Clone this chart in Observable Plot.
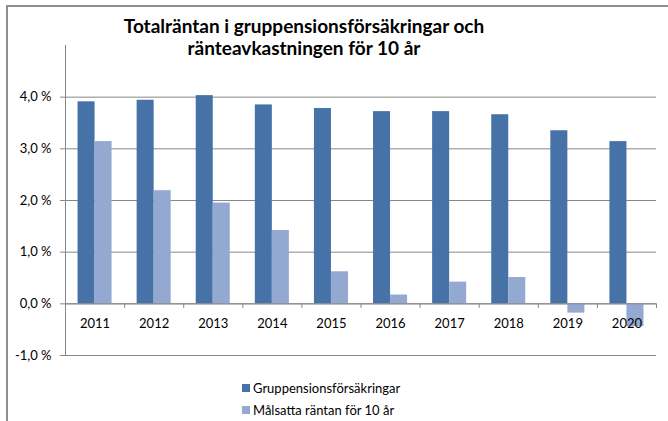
<!DOCTYPE html>
<html>
<head>
<meta charset="utf-8">
<script src="https://cdn.jsdelivr.net/npm/d3@7"></script>
<script src="https://cdn.jsdelivr.net/npm/@observablehq/plot@0.6"></script>
<style>
  html, body { margin: 0; padding: 0; background: #fff; }
  #wrap { position: relative; width: 668px; height: 421px; overflow: hidden; font-family: Lato, "Liberation Sans", sans-serif; }
  #frame { position: absolute; left: 6px; top: 5px; width: 700px; height: 500px; border-top: 2px solid #8e8e8e; border-left: 2px solid #8e8e8e; }
  #title { position: absolute; left: 0; top: 15px; width: 608px; text-align: center; font-weight: bold; font-size: 19px; line-height: 22px; color: #000; }
  #chart { position: absolute; left: 0; top: 0; }
  #legend { position: absolute; left: 242px; top: 377px; font-size: 13px; color: #000; }
  .li { display: flex; align-items: center; height: 22px; }
  .sw { width: 8px; height: 8px; margin-right: 3px; }
</style>
</head>
<body>
<div id="wrap">
  <div id="frame"></div>
  <div id="title">Totalräntan i gruppensionsförsäkringar och<br>ränteavkastningen för 10 år</div>
  <div id="chart"></div>
  <div id="legend"></div>
</div>
<script>
const years = [2011, 2012, 2013, 2014, 2015, 2016, 2017, 2018, 2019, 2020];
const gruppension = [3.91, 3.94, 4.03, 3.85, 3.78, 3.72, 3.72, 3.66, 3.35, 3.14];
const malsatta = [3.14, 2.19, 1.95, 1.42, 0.62, 0.17, 0.42, 0.51, -0.18, -0.44];
const seriesNames = ["Gruppensionsförsäkringar", "Målsatta räntan för 10 år"];
const colors = ["#4672a8", "#94a9d1"];
const yTicks = [-1, 0, 1, 2, 3, 4];

const half = 0.288; // bar width in year units
const dark = years.map((y, i) => ({year: y, value: gruppension[i]}));
const light = years.map((y, i) => ({year: y, value: malsatta[i]}));
const bounds = [years[0] - 0.5, ...years.map(y => y + 0.5)];
const fmt = d => d.toFixed(1).replace(".", ",") + " %";

const chart = Plot.plot({
  width: 668,
  height: 421,
  marginLeft: 65,
  marginRight: 12,
  marginTop: 45,
  marginBottom: 66,
  style: {fontFamily: "Lato, 'Liberation Sans', sans-serif", background: "transparent", color: "#000"},
  x: {type: "linear", domain: [years[0] - 0.5, years[years.length - 1] + 0.5], axis: null},
  y: {domain: [-1, 5], axis: null},
  marks: [
    Plot.gridY(yTicks, {stroke: "#878787", strokeOpacity: 1, strokeWidth: 1}),
    Plot.axisY(yTicks, {tickFormat: fmt, tickSize: 5, tickPadding: 9, stroke: "#878787", fontSize: 13, fill: "#000", label: null}),
    Plot.rectY(dark, {x1: d => d.year - half, x2: d => d.year, y1: 0, y2: "value", fill: colors[0]}),
    Plot.rectY(light, {x1: d => d.year, x2: d => d.year + half, y1: 0, y2: "value", fill: colors[1]}),
    Plot.ruleY([0], {stroke: "#878787"}),
    Plot.ruleX(bounds, {x: d => d, y1: 0, y2: -0.09, stroke: "#878787"}),
    Plot.frame({anchor: "left", stroke: "#878787"}),
    Plot.text(years, {x: d => d, y: 0, dy: 20, text: d => String(d), fontSize: 13, fill: "#000"})
  ]
});
document.getElementById("chart").appendChild(chart);

const legend = document.getElementById("legend");
seriesNames.forEach((name, i) => {
  const row = document.createElement("div");
  row.className = "li";
  const sw = document.createElement("span");
  sw.className = "sw";
  sw.style.background = colors[i];
  const t = document.createElement("span");
  t.textContent = name;
  row.appendChild(sw);
  row.appendChild(t);
  legend.appendChild(row);
});
</script>
</body>
</html>
